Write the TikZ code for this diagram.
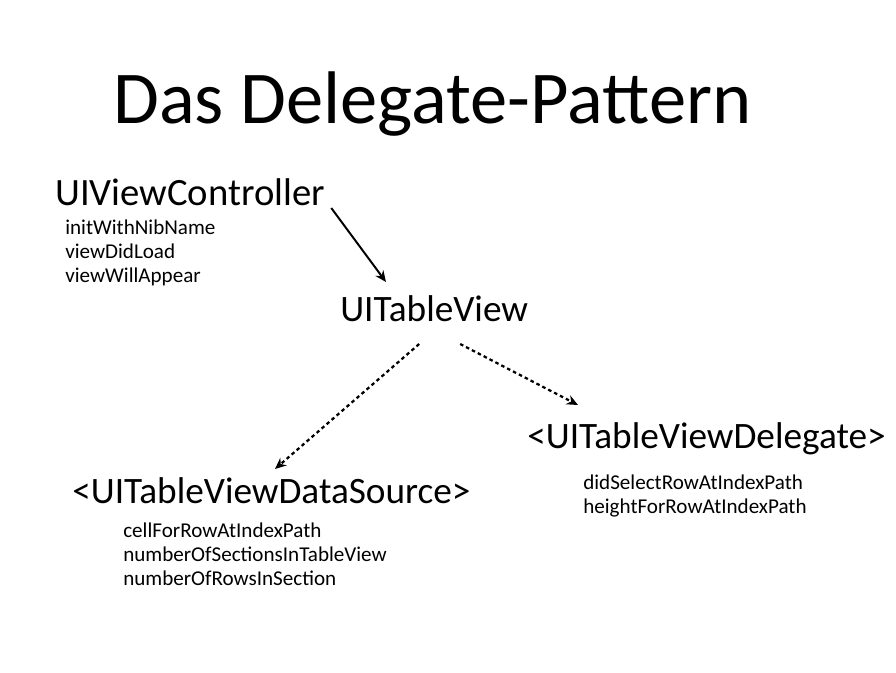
\documentclass[tikz,border=0pt]{standalone}
\usepackage{fontspec}
\setmainfont{Carlito}
\usetikzlibrary{calc,arrows.meta}

\tikzstyle{heading} = [inner sep=0pt, anchor=base west, font=\fontsize{26.5}{30}\selectfont]
\tikzstyle{methods} = [inner sep=0pt, anchor=base west, align=left, font=\fontsize{15}{17}\selectfont]
\tikzstyle{uses} = [line width=1.4pt, -{Stealth[length=8pt,width=7pt]}]
\tikzstyle{impl} = [line width=1.6pt, dash pattern=on 2.5pt off 2.2pt, -{Stealth[length=8pt,width=7pt]}]

\begin{document}
\begin{tikzpicture}[x=0.025cm, y=-0.025cm]
\useasboundingbox (0,0) rectangle (896,672);

\node[heading, font=\fontsize{53}{60}\selectfont] (title) at (113,123) {Das Delegate-Pattern};

\node[heading, font=\fontsize{27.5}{31}\selectfont] (vc) at (55,205) {UIViewController};
% anchor base = baseline of the last line
\node[methods] (vcm) at (65,282) {initWithNibName\\viewDidLoad\\viewWillAppear};

\node[heading] (tv) at (340,321) {UITableView};

\node[heading] (dg) at (527,448) {<UITableViewDelegate>};
\node[methods] (dgm) at (583,513) {didSelectRowAtIndexPath\\heightForRowAtIndexPath};

\node[heading] (ds) at (72,503) {<UITableViewDataSource>};
\node[methods] (dsm) at (123,585) {cellForRowAtIndexPath\\numberOfSectionsInTableView\\numberOfRowsInSection};

% controller holds the table view
\draw[uses] ($(vc.base east)+(6,3)$) -- ($(tv.base west)+(46,-39)$);
% protocols
\draw[impl] ($(tv.base)+(-15,23)$) -- ($(ds.base west)+(203,-34)$);
\draw[impl] ($(tv.base)+(26,23)$) -- ($(dg.base west)+(51,-43)$);
\end{tikzpicture}
\end{document}
